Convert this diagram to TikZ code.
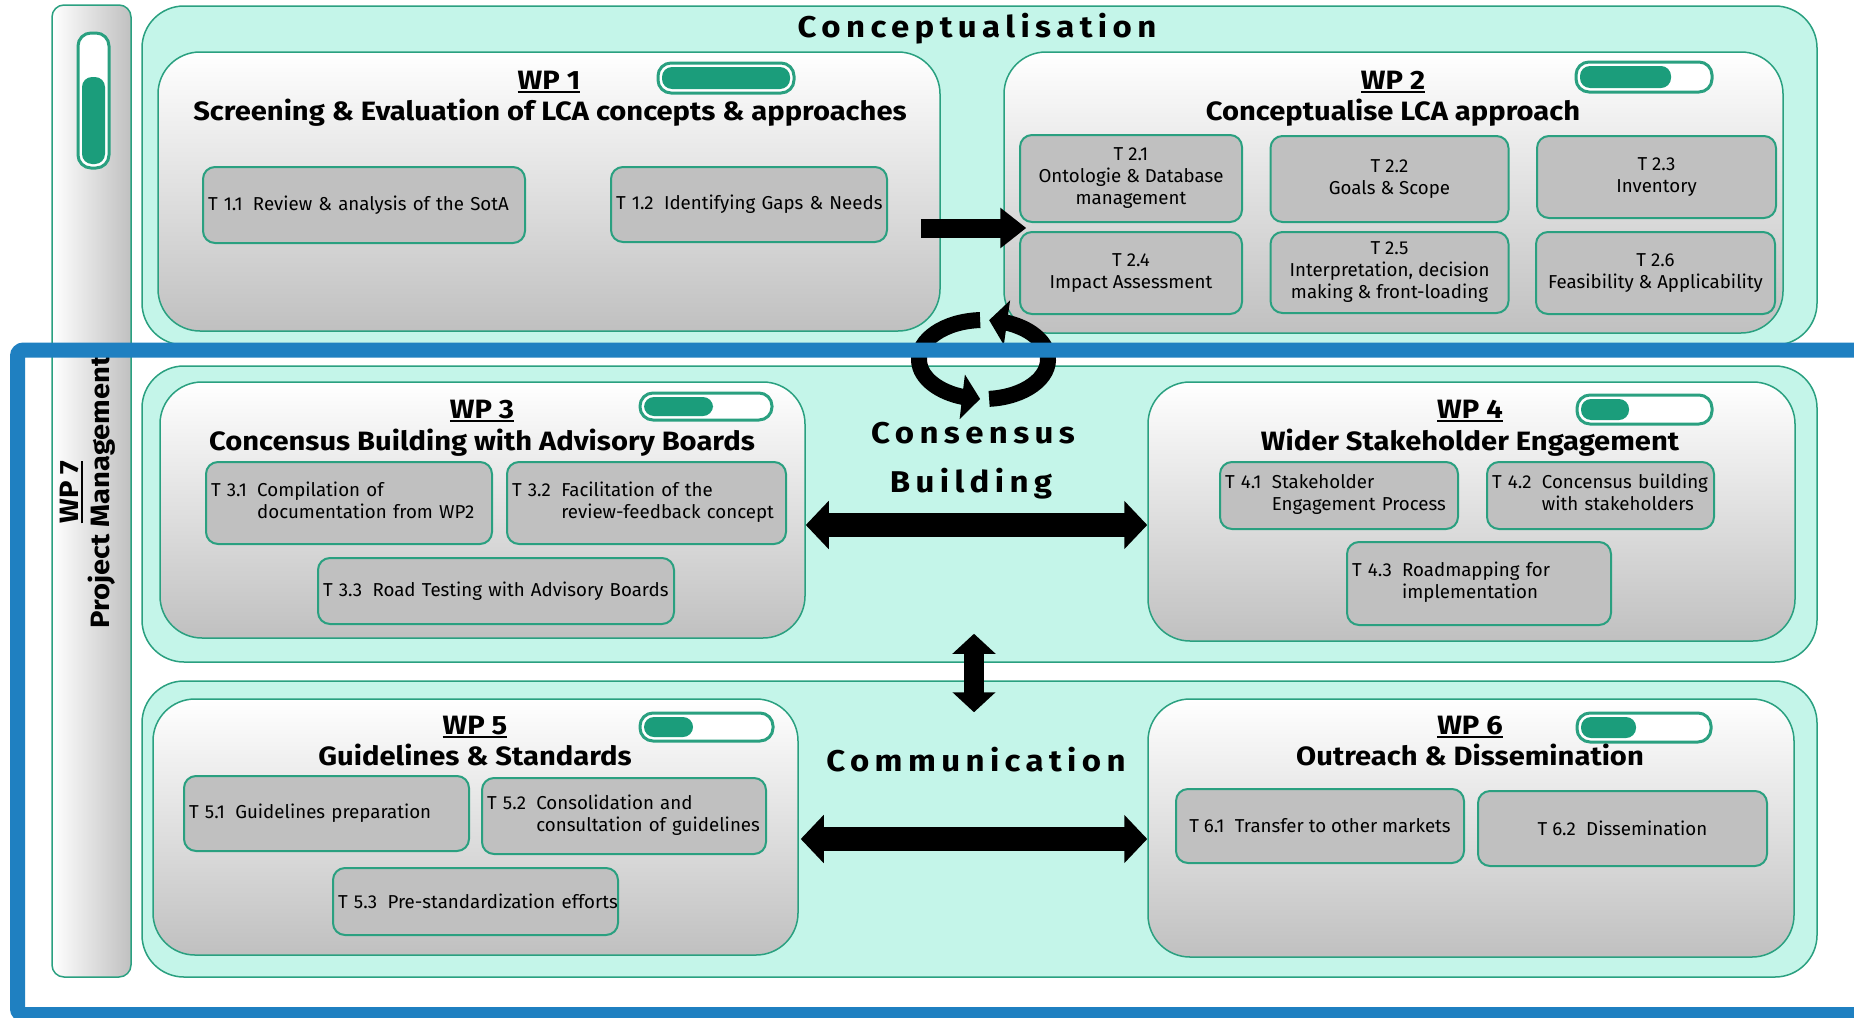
\documentclass[tikz,border=0pt]{standalone}
\usepackage{fontspec}
\setmainfont{Fira Sans}[BoldFeatures={FakeStretch=1.1}]
\newfontfamily\trackfont{Fira Sans}[LetterSpace=18, BoldFeatures={FakeStretch=1.1}]
\usetikzlibrary{arrows.meta,bending}
\definecolor{mint}{RGB}{196,245,233}
\definecolor{tgreen}{RGB}{42,160,128}
\definecolor{pgreen}{RGB}{27,157,123}
\definecolor{tgray}{RGB}{192,192,192}
\definecolor{fblue}{RGB}{31,128,193}
\newcommand\taskfont{\fontsize{18.7}{22}\selectfont}
\newcommand\headfont{\fontsize{26.5}{31}\selectfont\bfseries}
\newcommand\secfont{\fontsize{30}{40}\selectfont\trackfont\bfseries}
\newcommand\uln[1]{\leavevmode\vtop{\hbox{#1}\kern1.5pt\hrule height 2pt}}
\newcommand\tone[2]{\mbox{#1\hspace{0.55em}#2}}
\newcommand\tlab[3]{\mbox{#1\hspace{0.55em}\begin{tabular}[t]{@{}l@{}}#2\\#3\end{tabular}}}
\newcommand\pill[5]{%
  \draw[pillout] (#1,#2) rectangle (#3,#4);
  \fill[pgreen, rounded corners=10pt] (#1+4,#2+4) rectangle (#5,#4-4);}
\tikzset{
  outerbox/.style={draw=tgreen, line width=1.5pt, fill=mint, rounded corners=42pt},
  wpbox/.style={draw=tgreen, line width=1.5pt, top color=white, bottom color=tgray, rounded corners=42pt},
  taskbox/.style={draw=tgreen, line width=2pt, fill=tgray, rounded corners=12pt, font=\taskfont, inner xsep=5pt, inner ysep=0pt},
  taskL/.style 2 args={taskbox, text width=#1, minimum height=#2, align=left},
  taskC/.style 2 args={taskbox, minimum width=#1, minimum height=#2, align=center},
  pillout/.style={draw=tgreen, line width=3pt, fill=white, rounded corners=13pt},
  head/.style={font=\headfont, anchor=base},
  sect/.style={font=\secfont, anchor=base},
  blockarrow/.style={line width=19pt, -{Triangle[length=26pt,width=39pt]}},
  dblarrow/.style={line width=24pt, {Triangle[length=23pt,width=47pt]}-{Triangle[length=23pt,width=47pt]}},
  vdblarrow/.style={line width=20pt, {Triangle[length=20pt,width=42pt]}-{Triangle[length=20pt,width=42pt]}},
  cyc/.style={line width=16pt, -{Triangle[length=18pt,width=44pt]}},
}
\begin{document}
\begin{tikzpicture}[x=1pt,y=-1pt]
\useasboundingbox[fill=white] (0,0) rectangle (1854,1017);
% WP7 bar
\node[draw=tgreen, line width=1.5pt, left color=white, right color=tgray, rounded corners=12pt, minimum width=79pt, minimum height=972pt] (wp7) at (91.5,491) {};
\draw[pillout] (78,33) rectangle (109,168);
\fill[pgreen, rounded corners=10pt] (82,77) rectangle (105,164);
\node[rotate=90, font=\headfont, align=center] (wp7t) at (88,492) {\uln{WP 7}\\Project Management};
% outer boxes
\node[outerbox, minimum width=1675pt, minimum height=339pt] (concept) at (979.5,175.5) {};
\node[outerbox, minimum width=1675pt, minimum height=296pt] (cons) at (979.5,514) {};
\node[outerbox, minimum width=1675pt, minimum height=296pt] (comm) at (979.5,829) {};
\node[sect] (conceptt) at (977,37) {Conceptualisation};
\node[sect] (const1) at (973,443) {Consensus};
\node[sect] (const2) at (971,492) {Building};
\node[sect] (commt) at (976,771) {Communication};
% WP boxes
\node[wpbox, minimum width=782pt, minimum height=279pt] (wp1) at (549,191.5) {};
\node[wpbox, minimum width=779pt, minimum height=281pt] (wp2) at (1393.5,192.5) {};
\node[wpbox, minimum width=645pt, minimum height=256pt] (wp3) at (482.5,510) {};
\node[wpbox, minimum width=647pt, minimum height=259pt] (wp4) at (1471.5,511.5) {};
\node[wpbox, minimum width=645pt, minimum height=256pt] (wp5) at (475.5,827) {};
\node[wpbox, minimum width=646pt, minimum height=258pt] (wp6) at (1471,828) {};
% pills
\pill{658}{63}{794}{93}{790}
\pill{1576}{62}{1712}{92}{1671}
\pill{640}{393}{772}{420}{713}
\pill{1577}{395}{1712}{424}{1629}
\pill{640}{713}{773}{741}{693}
\pill{1577}{713}{1711}{742}{1636}
% headings
\node[head] (wp1a) at (549,89) {\uln{WP 1}};
\node[head] (wp1b) at (550,120) {Screening \& Evaluation of LCA concepts \& approaches};
\node[head] (wp2a) at (1393,89) {\uln{WP 2}};
\node[head] (wp2b) at (1393,120) {Conceptualise LCA approach};
\node[head] (wp3a) at (482,418) {\uln{WP 3}};
\node[head] (wp3b) at (482,450) {Concensus Building with Advisory Boards};
\node[head] (wp4a) at (1470,418) {\uln{WP 4}};
\node[head] (wp4b) at (1470,450) {Wider Stakeholder Engagement};
\node[head] (wp5a) at (475,734) {\uln{WP 5}};
\node[head] (wp5b) at (475,765) {Guidelines \& Standards};
\node[head] (wp6a) at (1470,734) {\uln{WP 6}};
\node[head] (wp6b) at (1470,765) {Outreach \& Dissemination};
% tasks
\node[taskL={312pt}{76pt}] (t11) at (364,205) {\tone{T 1.1}{Review \& analysis of the SotA}};
\node[taskL={266pt}{75pt}] (t12) at (749,204.5) {\tone{T 1.2}{Identifying Gaps \& Needs}};
\node[taskC={222pt}{87pt}] (t21) at (1131,178.5) {T 2.1\\Ontologie \& Database\\management};
\node[taskC={238pt}{86pt}] (t22) at (1389.5,179) {T 2.2\\Goals \& Scope};
\node[taskC={239pt}{82pt}] (t23) at (1656.5,177) {T 2.3\\Inventory};
\node[taskC={222pt}{82pt}] (t24) at (1131,273) {T 2.4\\Impact Assessment};
\node[taskC={238pt}{81pt}] (t25) at (1389.5,272.5) {T 2.5\\Interpretation, decision\\making \& front-loading};
\node[taskC={239pt}{82pt}] (t26) at (1655.5,273) {T 2.6\\Feasibility \& Applicability};
\node[taskL={276pt}{82pt}] (t31) at (349,503) {\tlab{T 3.1}{Compilation of}{documentation from WP2}};
\node[taskL={269pt}{82pt}] (t32) at (646.5,503) {\tlab{T 3.2}{Facilitation of the}{review-feedback concept}};
\node[taskL={346pt}{66pt}] (t33) at (496,591) {\tone{T 3.3}{Road Testing with Advisory Boards}};
\node[taskL={228pt}{67pt}] (t41) at (1339,495.5) {\tlab{T 4.1}{Stakeholder}{Engagement Process}};
\node[taskL={217pt}{67pt}] (t42) at (1600.5,495.5) {\tlab{T 4.2}{Concensus building}{with stakeholders}};
\node[taskL={254pt}{83pt}] (t43) at (1479,583.5) {\tlab{T 4.3}{Roadmapping for}{implementation}};
\node[taskL={275pt}{75pt}] (t51) at (326.5,813.5) {\tone{T 5.1}{Guidelines preparation}};
\node[taskL={274pt}{76pt}] (t52) at (624,816) {\tlab{T 5.2}{Consolidation and}{consultation of guidelines}};
\node[taskL={275pt}{67pt}] (t53) at (475.5,901.5) {\tone{T 5.3}{Pre-standardization efforts}};
\node[taskC={288pt}{74pt}] (t61) at (1320,826) {\tone{T 6.1}{Transfer to other markets}};
\node[taskC={289pt}{75pt}] (t62) at (1622.5,828.5) {\tone{T 6.2}{Dissemination}};
% arrows
\draw[blockarrow] ([xshift=-20pt,yshift=-36.5pt]wp1.east) -- ([xshift=23pt,yshift=-35.5pt]wp2.west);
\draw[dblarrow] ([yshift=-15pt]wp3.east) -- ([yshift=-13.5pt]wp4.west);
\draw[dblarrow] ([xshift=2pt,yshift=-12pt]wp5.east) -- ([yshift=-11pt]wp6.west);
\draw[vdblarrow] ([xshift=-5.5pt,yshift=29pt]cons.south) -- ([xshift=-5.5pt,yshift=-32pt]comm.north);
% cycle
\coordinate (cc) at (983.5,359.5);
\draw[cyc] (cc) ++(267:64.5 and 39.5) arc[start angle=267, end angle=93, x radius=64.5, y radius=39.5];
\draw[cyc] (cc) ++(85:64.5 and 39.5) arc[start angle=85, end angle=-85, x radius=64.5, y radius=39.5];
% blue frame
\draw[fblue, line width=15pt, rounded corners=6pt] (1900,350) -- (17.5,350) -- (17.5,1014.5) -- (1900,1014.5);
\end{tikzpicture}
\end{document}
